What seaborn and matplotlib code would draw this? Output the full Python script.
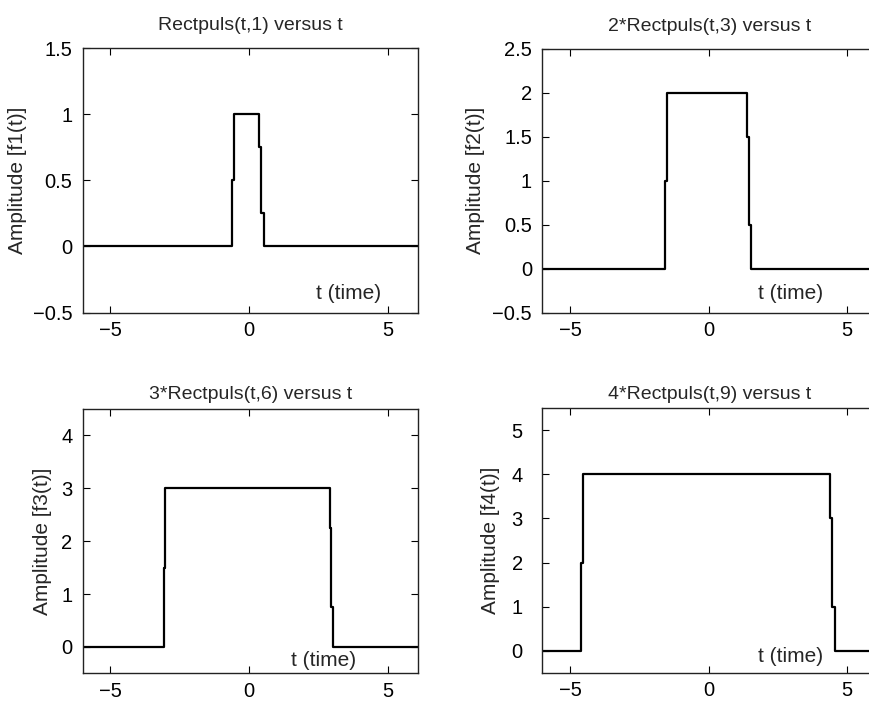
import matplotlib
matplotlib.use("Agg")
import matplotlib.pyplot as plt
import seaborn as sns

sns.set_style("ticks")
plt.rcParams['font.family'] = ['Liberation Sans', 'DejaVu Sans']

# step edges (t) and the level held from each edge onward
t1 = [-6, -0.60, -0.53, 0.38, 0.45, 0.55, 6.1]
f1 = [0, 0.5, 1, 0.75, 0.25, 0, 0]

t2 = [-6, -1.58, -1.51, 1.39, 1.47, 1.54, 6.1]
f2 = [0, 1, 2, 1.5, 0.5, 0, 0]

t3 = [-6, -3.08, -3.03, 2.91, 2.97, 3.03, 6.1]
f3 = [0, 1.5, 3, 2.25, 0.75, 0, 0]

t4 = [-6, -4.62, -4.53, 4.40, 4.47, 4.55, 6.1]
f4 = [0, 2, 4, 3, 1, 0, 0]

titles = ["Rectpuls(t,1) versus t", "2*Rectpuls(t,3) versus t",
          "3*Rectpuls(t,6) versus t", "4*Rectpuls(t,9) versus t"]
ylabels = ["Amplitude [f1(t)]", "Amplitude [f2(t)]",
           "Amplitude [f3(t)]", "Amplitude [f4(t)]"]
xticks = [-5, 0, 5]
yticks1 = [-0.5, 0, 0.5, 1, 1.5]
yticks2 = [-0.5, 0, 0.5, 1, 1.5, 2, 2.5]
yticks3 = [0, 1, 2, 3, 4]
yticks4 = [0, 1, 2, 3, 4, 5]
ylims = [(-0.5, 1.5), (-0.5, 2.5), (-0.5, 4.5), (-0.5, 5.5)]
label_pos = [(3.6, -0.36), (2.95, -0.28), (2.7, -0.26), (2.95, -0.14)]

fig = plt.figure(figsize=(8.7, 7.04), dpi=100)
W, H = 870, 704
boxes = [(82.7, 48, 418, 312.5), (542.3, 49, 877.6, 312.5),
         (82.7, 409, 418, 673.3), (542.3, 408.3, 877.6, 672.7)]
title_pads = [13, 13, 7, 7]
ylabel_pads = [4, 5, 6.5, 8]
ytick_pads = [7.5, 7.5, 7.5, 14]

data = [(t1, f1, yticks1), (t2, f2, yticks2), (t3, f3, yticks3), (t4, f4, yticks4)]

def fmt(v):
    return f"{v:g}".replace("-", "\u2212")

for i, (t, f, yt) in enumerate(data):
    x0, y0, x1, y1 = boxes[i]
    ax = fig.add_axes([x0 / W, 1 - y1 / H, (x1 - x0) / W, (y1 - y0) / H])
    sns.lineplot(x=t, y=f, ax=ax, color="black", linewidth=1.6,
                 drawstyle="steps-post", sort=False, estimator=None)
    ax.set_xlim(-6, 6.1)
    ax.set_ylim(*ylims[i])
    ax.set_xticks(xticks)
    ax.set_xticklabels([fmt(v) for v in xticks])
    ax.set_yticks(yt)
    ax.set_yticklabels([fmt(v) for v in yt])
    ax.tick_params(direction="in", top=True, right=True, length=5,
                   width=0.8, labelsize=14.5, colors="black")
    ax.tick_params(axis="x", pad=6)
    ax.tick_params(axis="y", pad=ytick_pads[i])
    for s in ax.spines.values():
        s.set_linewidth(1.0)
        s.set_color("#222222")
    ax.set_title(titles[i], fontsize=14, pad=title_pads[i])
    ax.set_ylabel(ylabels[i], fontsize=15, labelpad=ylabel_pads[i])
    ax.text(label_pos[i][0], label_pos[i][1], "t (time)", fontsize=15,
            ha="center", va="center")

fig.savefig("out.png", dpi=100)
